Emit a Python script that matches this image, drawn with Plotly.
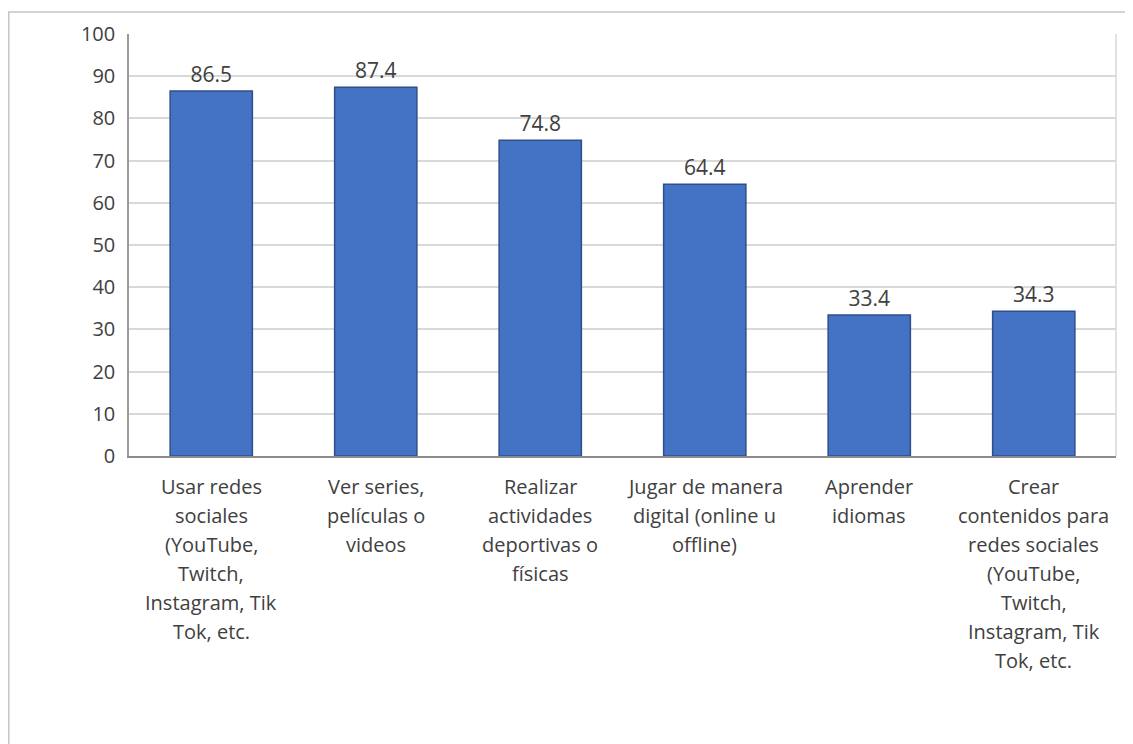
import plotly.graph_objects as go

categories = [
    "Usar redes<br>sociales<br>(YouTube,<br>Twitch,<br>Instagram, Tik<br>Tok, etc.",
    "Ver series,<br>películas o<br>videos",
    "Realizar<br>actividades<br>deportivas o<br>físicas",
    "Jugar de manera<br>digital (online u<br>offline)",
    "Aprender<br>idiomas",
    "Crear<br>contenidos para<br>redes sociales<br>(YouTube,<br>Twitch,<br>Instagram, Tik<br>Tok, etc.",
]
values = [86.5, 87.4, 74.8, 64.4, 33.4, 34.3]
value_labels = ["86.5", "87.4", "74.8", "64.4", "33.4", "34.3"]
y_ticks = [0, 10, 20, 30, 40, 50, 60, 70, 80, 90, 100]

FONT = "Open Sans"

fig = go.Figure()
fig.add_trace(go.Bar(
    x=categories,
    y=values,
    text=value_labels,
    textposition="outside",
    textfont=dict(family=FONT, size=21, color="#404040"),
    marker=dict(color="#4472C4", line=dict(color="#2F4F8A", width=1.5)),
    cliponaxis=False,
    hoverinfo="skip",
))

# category labels, one annotation per line to reproduce the wide line spacing
annotations = []
for cat in categories:
    for i, line in enumerate(cat.split("<br>")):
        annotations.append(dict(
            x=cat, y=0, xref="x", yref="y",
            text=line, showarrow=False,
            xanchor="center", yanchor="middle",
            yshift=-(30 + i * 29),
            font=dict(family=FONT, size=20, color="#404040"),
        ))

fig.update_layout(
    width=1133, height=744,
    margin=dict(l=121, r=25, t=23, b=296),
    paper_bgcolor="white", plot_bgcolor="white",
    bargap=0.5,
    showlegend=False,
    annotations=annotations,
    shapes=[
        # outer chart frame (left and top visible)
        dict(type="rect", xref="paper", yref="paper",
             x0=-0.1218, x1=1.2, y0=-1.0, y1=1.0524,
             line=dict(color="#c6c6c6", width=1.5), layer="below"),
        # plot area right border
        dict(type="line", xref="paper", yref="paper",
             x0=1, x1=1, y0=0, y1=1,
             line=dict(color="#d9d9d9", width=1.5)),
    ],
)
fig.update_xaxes(
    showticklabels=False, showgrid=False, ticks="",
    showline=True, linecolor="#8c8c8c", linewidth=1.5,
)
fig.update_yaxes(
    range=[0, 100], tickvals=y_ticks, ticktext=[str(v) for v in y_ticks],
    showgrid=True, gridcolor="#d9d9d9", gridwidth=1.5,
    showline=True, linecolor="#9a9a9a", linewidth=1.5,
    ticks="", ticklabelstandoff=8,
    tickfont=dict(family=FONT, size=20, color="#404040"),
    zeroline=False,
)

fig.write_html("out.html")
